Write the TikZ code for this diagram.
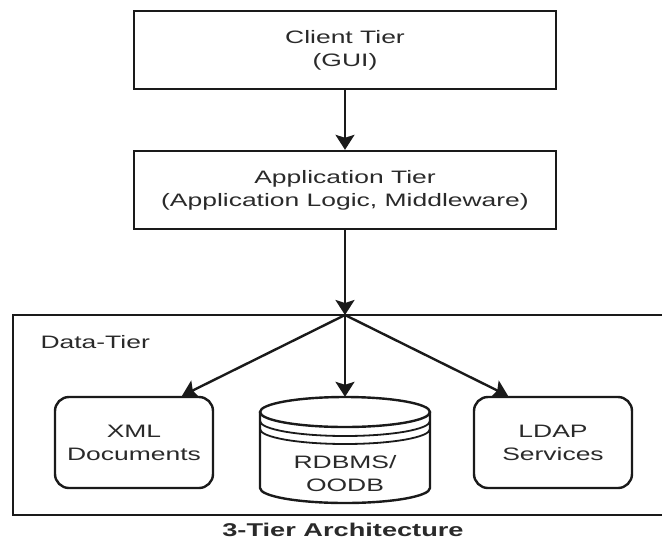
\documentclass[tikz,border=0pt]{standalone}
\usepackage{fontspec}
\setmainfont[FakeStretch=1.47]{Liberation Sans}
\usetikzlibrary{arrows.meta,calc}
\definecolor{ink}{HTML}{1A1A1A}
\definecolor{txt}{HTML}{2A2A2A}
\begin{document}
\begin{tikzpicture}[x=1pt,y=-1pt,
  every node/.style={font=\fontsize{18}{23}\selectfont, text=txt},
  tierbox/.style={draw=ink, line width=2.4pt, minimum width=422pt, minimum height=78pt, align=center, inner sep=0pt},
  roundbox/.style={draw=ink, line width=2.4pt, rounded corners=14pt, minimum width=158pt, minimum height=91pt, align=center, inner sep=0pt},
  conn/.style={draw=ink, line width=2.4pt, -{Stealth[length=15pt,width=19pt,inset=3pt]}},
  cyl/.style={draw=ink, line width=2.4pt},
  cylring/.style={draw=ink, line width=1.8pt}
]
\useasboundingbox (0,0) rectangle (662,550);
\fill[white] (0,0) rectangle (662,550);

% outer data tier frame
\draw[ink, line width=2.4pt] (670,315) -- (13,315) -- (13,515) -- (670,515);
\node[anchor=base west] (dtlabel) at (37,348) {Data-Tier};

% tiers
\node[tierbox] (client) at (345,50) {Client Tier\\(GUI)};
\node[tierbox] (app) at (345,190) {Application Tier\\(Application Logic, Middleware)};

% data sources
\node[roundbox] (xml) at (134,442.5) {XML\\Documents};
\node[roundbox] (ldap) at (553,442.5) {LDAP\\Services};
\node[minimum width=170pt, minimum height=106pt, inner sep=0pt] (db) at (345,450) {};

% cylinder
\draw[cyl, fill=white] (260,412) -- (260,488)
  arc[start angle=180, end angle=360, x radius=85pt, y radius=15pt] -- (430,412);
\draw[cyl] (345,412) ellipse [x radius=85pt, y radius=15pt];
\draw[cylring] (260,421) arc[start angle=180, end angle=360, x radius=85pt, y radius=15pt];
\draw[cylring] (260,429) arc[start angle=180, end angle=360, x radius=85pt, y radius=15pt];
\node[align=center] (dbtext) at (345,474) {RDBMS/\\OODB};

% connectors
\coordinate (hub) at (345,315);
\draw[conn] (client.south) -- (app.north);
\draw[conn] (app.south) -- (hub);
\draw[conn] (hub) -- ($(xml.north)+(48,0)$);
\draw[conn] (hub) -- (db.north);
\draw[conn] (hub) -- ($(ldap.north)+(-45,0)$);

% caption
\node[font=\fontsize{18.5}{23}\selectfont\bfseries] (caption) at (343,530) {3-Tier Architecture};
\end{tikzpicture}
\end{document}
